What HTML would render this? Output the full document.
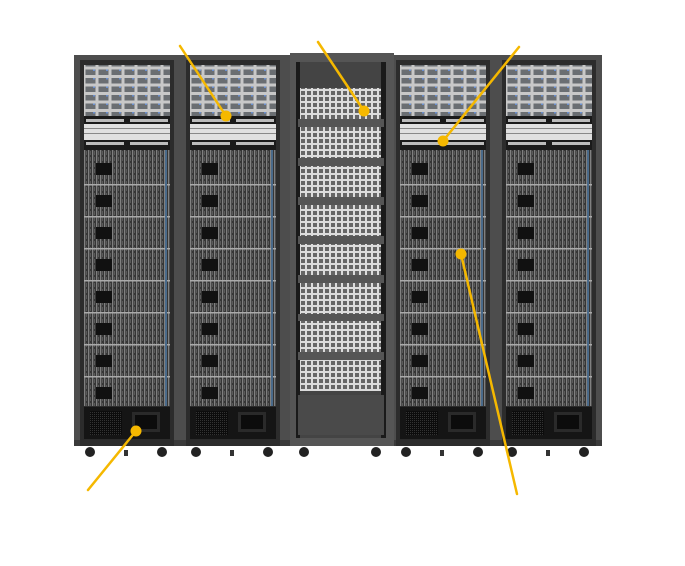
<!DOCTYPE html>
<html><head><meta charset="utf-8"><style>html,body{margin:0;padding:0;background:#fff}svg{display:block}</style></head>
<body>
<svg width="685" height="566" viewBox="0 0 685 566" xmlns="http://www.w3.org/2000/svg">
<defs>
<pattern id="grid" x="0" y="0" width="13" height="8.5" patternUnits="userSpaceOnUse">
<rect width="13" height="8.5" fill="#c8c8c8"/>
<rect x="1.5" y="1.5" width="10" height="5.5" fill="#6a6e72"/>
<rect x="9" y="1.5" width="2" height="1.5" fill="#6a8fcf"/>
</pattern>
<pattern id="srv" x="0" y="0" width="4" height="6" patternUnits="userSpaceOnUse">
<rect width="4" height="6" fill="#363636"/>
<rect x="0" y="0" width="1.3" height="6" fill="#808080"/>
<rect x="2" y="1" width="1" height="4" fill="#5a5a5a"/>
</pattern>
<pattern id="tray" x="0" y="0" width="6" height="6" patternUnits="userSpaceOnUse">
<rect width="6" height="6" fill="#dcdcdc"/>
<rect x="1" y="1" width="4" height="4" fill="#666"/>
</pattern>
<pattern id="mesh" x="0" y="0" width="2" height="2" patternUnits="userSpaceOnUse">
<rect width="2" height="2" fill="#0c0c0c"/><rect width="1" height="1" fill="#333"/>
</pattern>
<g id="rack">
<rect x="-4" y="60" width="94" height="386" fill="#2c2c2c"/>
<rect x="0" y="65" width="86" height="51" fill="url(#grid)"/>
<rect x="0" y="116" width="86" height="34" fill="#1a1a1a"/>
<rect x="2" y="119" width="38" height="3" fill="#bbb"/><rect x="46" y="119" width="38" height="3" fill="#bbb"/>
<rect x="0" y="124" width="86" height="16" fill="#e0e0e0"/>
<rect x="0" y="128" width="86" height="1" fill="#888"/><rect x="0" y="133" width="86" height="1" fill="#888"/>
<rect x="2" y="142" width="38" height="3" fill="#bbb"/><rect x="46" y="142" width="38" height="3" fill="#bbb"/>
<rect x="0" y="150" width="86" height="256" fill="url(#srv)"/>
<g fill="#111">
<rect x="12" y="163" width="16" height="12"/><rect x="12" y="195" width="16" height="12"/><rect x="12" y="227" width="16" height="12"/><rect x="12" y="259" width="16" height="12"/><rect x="12" y="291" width="16" height="12"/><rect x="12" y="323" width="16" height="12"/><rect x="12" y="355" width="16" height="12"/><rect x="12" y="387" width="16" height="12"/>
</g>
<g fill="#aaa">
<rect y="184" width="86" height="1.5"/><rect y="216" width="86" height="1.5"/><rect y="248" width="86" height="1.5"/><rect y="280" width="86" height="1.5"/><rect y="312" width="86" height="1.5"/><rect y="344" width="86" height="1.5"/><rect y="376" width="86" height="1.5"/>
</g>
<rect x="81" y="150" width="2" height="256" fill="#4a6a8a"/>
<rect x="0" y="407" width="86" height="32" fill="#151515"/>
<rect x="6" y="411" width="32" height="24" fill="url(#mesh)"/>
<rect x="48" y="412" width="28" height="20" fill="#2a2a2a"/>
<rect x="51" y="415" width="22" height="14" fill="#0c0c0c"/>
<circle cx="6" cy="452" r="5" fill="#222"/><circle cx="78" cy="452" r="5" fill="#222"/>
<rect x="40" y="450" width="4" height="6" fill="#333"/>
</g>
</defs>
<rect x="74" y="55" width="528" height="391" fill="#4d4d4d"/>
<rect x="74" y="440" width="528" height="6" fill="#3a3a3a"/>
<use href="#rack" x="84"/>
<use href="#rack" x="190"/>
<use href="#rack" x="400"/>
<use href="#rack" x="506"/>
<!-- center rack -->
<rect x="290" y="53" width="104" height="393" fill="#555"/>
<rect x="296" y="62" width="90" height="376" fill="#444"/>
<rect x="296" y="62" width="4" height="376" fill="#1a1a1a"/><rect x="381" y="62" width="5" height="376" fill="#1a1a1a"/>
<g>
<rect x="300" y="88" width="81" height="31" fill="url(#tray)"/>
<rect x="300" y="127" width="81" height="31" fill="url(#tray)"/>
<rect x="300" y="166" width="81" height="31" fill="url(#tray)"/>
<rect x="300" y="205" width="81" height="31" fill="url(#tray)"/>
<rect x="300" y="244" width="81" height="31" fill="url(#tray)"/>
<rect x="300" y="283" width="81" height="31" fill="url(#tray)"/>
<rect x="300" y="321" width="81" height="31" fill="url(#tray)"/>
<rect x="300" y="360" width="81" height="31" fill="url(#tray)"/>
</g>
<g fill="#555">
<rect x="298" y="119" width="86" height="8"/><rect x="298" y="158" width="86" height="8"/><rect x="298" y="197" width="86" height="8"/><rect x="298" y="236" width="86" height="8"/><rect x="298" y="275" width="86" height="8"/><rect x="298" y="314" width="86" height="7"/><rect x="298" y="352" width="86" height="8"/>
</g>
<rect x="298" y="395" width="86" height="40" fill="#4a4a4a"/>
<circle cx="304" cy="452" r="5" fill="#222"/><circle cx="376" cy="452" r="5" fill="#222"/>
<!-- callouts -->
<g stroke="#f5b800" stroke-width="2.5" fill="none" stroke-linecap="round">
<line x1="180" y1="46" x2="226" y2="116"/>
<line x1="318" y1="42" x2="364" y2="111"/>
<line x1="519" y1="47" x2="443" y2="141"/>
<line x1="88" y1="490" x2="136" y2="431"/>
<line x1="517" y1="494" x2="461" y2="254"/>
</g>
<g fill="#f5b800">
<circle cx="226" cy="116" r="5.5"/><circle cx="364" cy="111" r="5.5"/><circle cx="443" cy="141" r="5.5"/><circle cx="136" cy="431" r="5.5"/><circle cx="461" cy="254" r="5.5"/>
</g>
</svg>
</body></html>
